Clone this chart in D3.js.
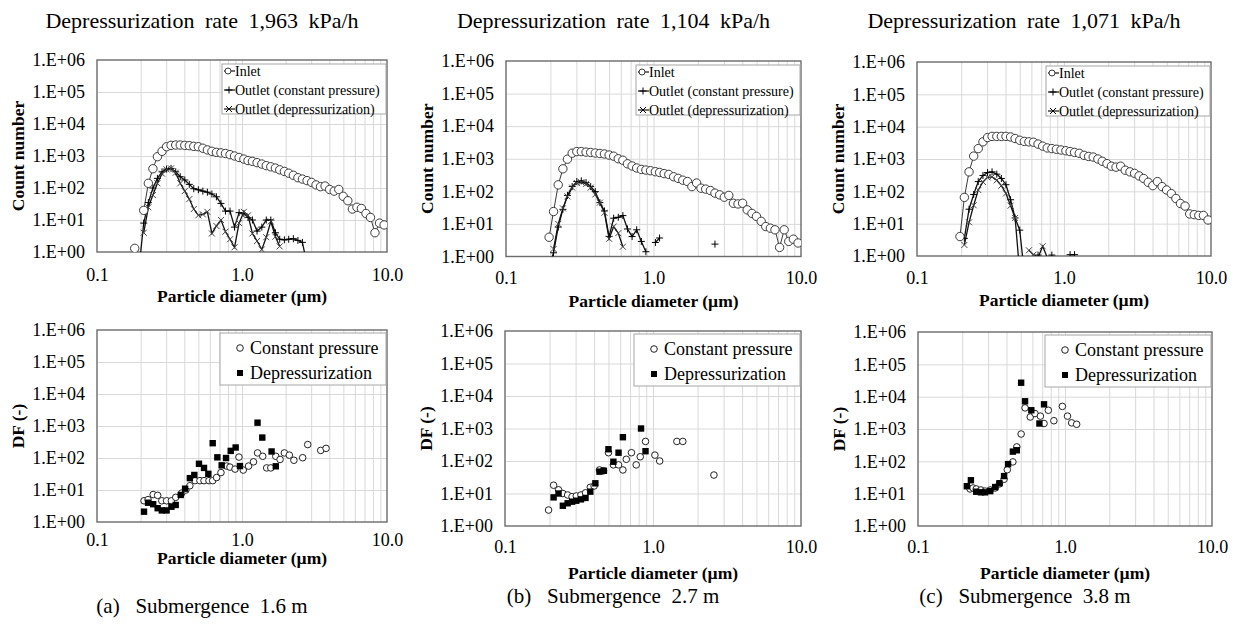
<!DOCTYPE html>
<html>
<head>
<meta charset="utf-8">
<script src="https://d3js.org/d3.v7.min.js"></script>
<style>
  body { margin: 0; background: #fff; }
  svg { display: block; font-family: "Liberation Serif", "Times New Roman", serif; }
</style>
</head>
<body>
<div class="container"></div>
<script>
// size bins of the particle counter (um)
const diameters = [
  0.182, 0.196, 0.210, 0.226, 0.243, 0.261, 0.281, 0.302, 0.324, 0.349,
  0.375, 0.403, 0.433, 0.465, 0.500, 0.537, 0.577, 0.620, 0.666, 0.716,
  0.769, 0.827, 0.888, 0.955, 1.03, 1.10, 1.18, 1.27, 1.37, 1.47,
  1.58, 1.70, 1.82, 1.96, 2.10, 2.26, 2.43, 2.61, 2.81, 3.02,
  3.24, 3.48, 3.74, 4.02, 4.32, 4.65, 4.99, 5.37, 5.77, 6.20,
  6.66, 7.16, 7.69, 8.26, 8.88, 9.55
];

// count numbers, one value per bin (null = no point)
const inletA = [
  1.3, null, 20, 140, 400, 950, 1400, 1950, 2150, 2200,
  2200, 2150, 2100, 2000, 1950, 1750, 1550, 1400, 1300, 1250,
  1200, 1100, 1000, 900, 800, 720, 680, 620, 560, 500,
  460, 420, 370, 330, 290, 250, 210, 190, 170, 150,
  125, 110, 115, 90, 80, 90, 55, 40, 22, 25,
  23, 16, 12, 4, 8, 7
];
const outletCpA = [
  null, 0.4, 8, 35, 100, 200, 320, 390, 410, 320,
  225, 178, 130, 95, 88, 80, 74, 65, 53, 33,
  19, 19, 6, 17, 16, 12, 10, 4.5, 6, 10,
  10, 4, 2.5, 2.4, 2.5, 2.6, 2.3, 2.0, 0.4
];
const outletDpA = [
  null, null, 4, 25, 60, 140, 280, 380, 410, 300,
  140, 80, 45, 22, 14, 15, 18, 3.8, 6.5, 10,
  4.3, 2.5, 1.4, 8, 18, 14, 3.8, 2.2, 1.2, 2.9,
  9, 3, 1.5
];
const inletB = [
  null, 3.9, 24, 158, 490, 970, 1480, 1660, 1660, 1600,
  1560, 1500, 1450, 1400, 1300, 1200, 1000, 900, 700, 600,
  520, 470, 450, 430, 400, 380, 350, 330, 280, 250,
  220, 200, 140, 180, 125, 117, 106, 88, 78, 66,
  75, 43, 41, 43, 27, 21, 17, 12, 8.3, 7.4,
  6.6, 1.9, 6.6, 2.9, 3.4, 2.6
];
const outletCpB = [
  null, 0.5, 1.3, 8, 28, 75, 140, 200, 210, 185,
  140, 98, 45, 25, 4.1, 15, 16, 18, 7, 4.1,
  6.6, 2.9, 1.4, null, 2.7, 3.7, null, null, null, null,
  null, null, null, null, null, null, null, 2.4
];
const outletDpB = [
  null, null, 1.7, 10, 30, 70, 130, 180, 190, 170,
  130, 80, 45, 22, 3.5, 8.3, 5.2, 2.0
];
const inletC = [
  null, 4, 65, 400, 1230, 2100, 3400, 4600, 5000, 5000,
  5000, 5000, 4800, 4300, 3800, 3500, 3400, 3300, 2900, 2500,
  2200, 2100, 2000, 1900, 1800, 1700, 1600, 1500, 1300, 1200,
  1150, 1000, 850, 720, 600, 560, 600, 450, 400, 360,
  300, 250, 190, 150, 200, 140, 110, 85, 60, 42,
  35, 20, 19, 18, 18, 13
];
const outletCpC = [
  null, null, 3.5, 28, 80, 200, 310, 380, 400, 340,
  250, 160, 55, 15, 6.3, 0.3, null, null, 1.07, null,
  null, 1.07, null, null, null, 1.1, 1.1
];
const outletDpC = [
  null, null, 2.2, 11, 37, 110, 195, 270, 280, 220,
  150, 86, 36, 15, 0.3, null, 1.5, 1.1, 0.9, 2.0,
  0.9
];

// decontamination factors, [diameter, DF]
const dfCpA = [[0.211,4.6],[0.225,5],[0.244,7.2],[0.262,6.8],[0.28,4.6],[0.302,4.6],[0.326,4.6],[0.349,5.9],[0.384,8],[0.41,10],[0.437,13.6],[0.474,19.6],[0.513,19.6],[0.547,19.6],[0.592,19.6],[0.628,19.6],[0.668,24.5],[0.716,35],[0.784,56],[0.826,52],[0.895,45],[0.953,107],[1.02,42],[1.11,56],[1.2,76],[1.28,144],[1.39,113],[1.48,49],[1.58,49],[1.71,113],[1.83,90],[1.96,144],[2.12,123],[2.28,85],[2.62,102],[2.84,263],[3.49,173],[3.8,200]];
const dfDpA = [[0.211,2.1],[0.225,4],[0.244,3.6],[0.262,2.7],[0.28,2.3],[0.302,2.3],[0.326,3.0],[0.349,3.4],[0.378,7],[0.405,11],[0.437,23.5],[0.469,29.5],[0.505,66],[0.547,49],[0.586,32],[0.628,290],[0.676,105],[0.724,59],[0.776,100],[0.836,167],[0.904,213],[0.968,56],[1.28,1270],[1.38,435],[1.6,160],[1.71,55]];
const dfCpB = [[0.197,3.1],[0.213,18],[0.23,13],[0.246,10],[0.265,9],[0.284,8],[0.303,8.4],[0.326,9],[0.35,10.5],[0.377,15.5],[0.4,17],[0.435,53],[0.463,50],[0.5,180],[0.54,76],[0.585,76],[0.626,53],[0.66,113],[0.715,180],[0.77,76],[0.82,135],[0.89,400],[1.03,152],[1.11,100],[1.45,400],[1.59,400],[2.58,37]];
const dfDpB = [[0.213,7.6],[0.23,10],[0.246,4.2],[0.265,5],[0.284,5.6],[0.303,6],[0.326,6.6],[0.35,7.3],[0.377,11.4],[0.408,20.6],[0.435,47],[0.466,50],[0.5,230],[0.54,95],[0.585,180],[0.626,540],[0.83,1000],[0.89,200]];
const dfCpC = [[0.226,14],[0.237,15],[0.249,14],[0.268,13],[0.286,12],[0.31,13],[0.335,15],[0.358,20],[0.385,28],[0.405,55],[0.442,96],[0.47,280],[0.503,700],[0.535,4500],[0.58,2350],[0.625,3000],[0.68,2500],[0.72,1480],[0.77,3800],[0.84,1800],[0.96,5000],[1.04,2500],[1.11,1550],[1.2,1400]];
const dfDpC = [[0.215,17],[0.229,26],[0.249,11.5],[0.268,11],[0.286,11],[0.31,12],[0.335,16],[0.358,21],[0.385,35],[0.41,82],[0.442,200],[0.47,220],[0.503,27000],[0.535,7200],[0.59,3800],[0.67,1480],[0.72,5800]];

// axis ticks and texts
const yTicks = [1, 10, 100, 1000, 1e4, 1e5, 1e6];
const yTickLabels = ["1.E+00", "1.E+01", "1.E+02", "1.E+03", "1.E+04", "1.E+05", "1.E+06"];
const xTicks = [0.1, 1, 10];
const xTickLabels = ["0.1", "1.0", "10.0"];
const xGrid = [0.2, 0.3, 0.4, 0.5, 0.6, 0.7, 0.8, 0.9, 1, 2, 3, 4, 5, 6, 7, 8, 9];
const titles = ["Depressurization rate 1,963 kPa/h", "Depressurization rate 1,104 kPa/h", "Depressurization rate 1,071 kPa/h"];
const captions = ["(a)   Submergence  1.6 m", "(b)   Submergence  2.7 m", "(c)   Submergence  3.8 m"];
const topLegend = ["Inlet", "Outlet (constant pressure)", "Outlet (depressurization)"];
const bottomLegend = ["Constant pressure", "Depressurization"];

const svg = d3.select(".container").append("svg")
  .attr("width", 1242).attr("height", 626);

const topPanels = [
  { left: 97, right: 387, top: 60, bottom: 252, pad: 16, titleDy: 50, inlet: inletA, cp: outletCpA, dp: outletDpA },
  { left: 506, right: 801, top: 61, bottom: 256.5, pad: 15, titleDy: 50, inlet: inletB, cp: outletCpB, dp: outletDpB },
  { left: 917, right: 1211, top: 62, bottom: 256, pad: 15, titleDy: 50, inlet: inletC, cp: outletCpC, dp: outletDpC }
];
const bottomPanels = [
  { left: 97, right: 387, top: 330, bottom: 522, pad: 11, titleDy: 42, capY: 613, cp: dfCpA, dp: dfDpA },
  { left: 505, right: 801, top: 331, bottom: 526, pad: 14, titleDy: 53, capY: 603, cp: dfCpB, dp: dfDpB },
  { left: 918, right: 1212, top: 332, bottom: 526, pad: 14, titleDy: 53, capY: 603, cp: dfCpC, dp: dfDpC }
];

const plusPath = "M-3.5,0H3.5M0,-3.5V3.5";
const crossPath = "M-3,-3L3,3M-3,3L3,-3";

// grid, frame, ticks and axis titles of one panel
const drawFrame = (p, i, yTitle) => {
  const x = d3.scaleLog().domain([0.1, 10]).range([p.left, p.right]);
  const y = d3.scaleLog().domain([1, 1e6]).range([p.bottom, p.top]);
  const g = svg.append("g");

  g.append("g")
    .attr("transform", `translate(0,${p.bottom})`)
    .call(d3.axisBottom(x).tickValues(xGrid).tickSize(-(p.bottom - p.top)).tickFormat(""))
    .call((s) => s.select(".domain").remove())
    .call((s) => s.selectAll("line").attr("stroke", "#d9d9d9"));

  g.append("g")
    .attr("transform", `translate(${p.left},0)`)
    .call(d3.axisLeft(y).tickValues(yTicks.slice(1, 6)).tickSize(-(p.right - p.left)).tickFormat(""))
    .call((s) => s.select(".domain").remove())
    .call((s) => s.selectAll("line").attr("stroke", "#d9d9d9"));

  g.append("rect")
    .attr("x", p.left).attr("y", p.top)
    .attr("width", p.right - p.left).attr("height", p.bottom - p.top)
    .attr("fill", "none").attr("stroke", "#6b6b6b").attr("stroke-width", 1.4);

  g.append("g")
    .attr("transform", `translate(${p.left},0)`)
    .call(d3.axisLeft(y).tickValues(yTicks).tickFormat((d, k) => yTickLabels[k]).tickSize(0).tickPadding(12))
    .call((s) => s.select(".domain").remove())
    .selectAll("text")
    .attr("font-family", "Liberation Serif").attr("font-size", 18).attr("fill", "#000");

  g.append("g")
    .attr("transform", `translate(0,${p.bottom})`)
    .call(d3.axisBottom(x).tickValues(xTicks).tickFormat((d, k) => xTickLabels[k]).tickSize(0).tickPadding(p.pad))
    .call((s) => s.select(".domain").remove())
    .selectAll("text")
    .attr("font-family", "Liberation Serif").attr("font-size", 18).attr("fill", "#000");

  g.selectAll(".tick text").attr("font-family", "Liberation Serif");
  g.selectAll("g").attr("font-family", null);

  g.append("text")
    .attr("x", (p.left + p.right) / 2).attr("y", p.bottom + p.titleDy)
    .attr("text-anchor", "middle").attr("font-weight", "bold").attr("font-size", 17.5)
    .text("Particle diameter (\u00b5m)");

  g.append("text")
    .attr("transform", `translate(${p.left - 79},${(p.top + p.bottom) / 2}) rotate(-90)`)
    .attr("text-anchor", "middle").attr("dy", "0.35em")
    .attr("font-weight", "bold").attr("font-size", 17.5)
    .text(yTitle);

  svg.append("clipPath").attr("id", "clip" + yTitle.length + i)
    .append("rect")
    .attr("x", p.left).attr("y", p.top)
    .attr("width", p.right - p.left).attr("height", p.bottom - p.top);

  return { x, y, g, clip: `url(#clip${yTitle.length}${i})` };
};

// top row: size distributions
topPanels.forEach((p, i) => {
  const { x, y, g, clip } = drawFrame(p, i, "Count number");

  svg.append("text")
    .attr("x", (p.left + p.right) / 2 - 40).attr("y", 28)
    .attr("text-anchor", "middle").attr("font-size", 22).attr("word-spacing", 5)
    .text(titles[i]);

  const toPoints = (arr) => arr.map((v, k) => ({ d: diameters[k], v: v }));
  const line = d3.line().defined((d) => d.v != null).x((d) => x(d.d)).y((d) => y(d.v));
  const plot = g.append("g").attr("clip-path", clip);

  const inlet = toPoints(p.inlet);
  plot.append("path").datum(inlet).attr("d", line)
    .attr("fill", "none").attr("stroke", "#3a3a3a").attr("stroke-width", 1);

  [p.cp, p.dp].forEach((arr, s) => {
    const pts = toPoints(arr);
    plot.append("path").datum(pts).attr("d", line)
      .attr("fill", "none").attr("stroke", "#111").attr("stroke-width", 1.3);
    plot.selectAll(null)
      .data(pts.filter((d) => d.v != null && d.v >= 0.95))
      .join("path")
      .attr("transform", (d) => `translate(${x(d.d)},${y(d.v)})`)
      .attr("d", s === 0 ? plusPath : crossPath)
      .attr("stroke", s === 0 ? "#000" : "#444").attr("stroke-width", 1).attr("fill", "none");
  });

  plot.selectAll(null)
    .data(inlet.filter((d) => d.v != null && d.v >= 1))
    .join("circle")
    .attr("cx", (d) => x(d.d)).attr("cy", (d) => y(d.v)).attr("r", 4.2)
    .attr("fill", "#fff").attr("stroke", "#3a3a3a").attr("stroke-width", 1);

  // legend
  const bx = p.right - 165, by = p.top + 4;
  const lg = g.append("g");
  lg.append("rect").attr("x", bx).attr("y", by).attr("width", 164).attr("height", 50)
    .attr("fill", "#fff").attr("stroke", "#a6a6a6").attr("stroke-width", 1);
  topLegend.forEach((name, k) => {
    const cy = by + 7 + k * 19;
    lg.append("line").attr("x1", bx + 2).attr("x2", bx + 13).attr("y1", cy).attr("y2", cy)
      .attr("stroke", "#111").attr("stroke-width", 1.2);
    if (k === 0) {
      lg.append("circle").attr("cx", bx + 6).attr("cy", cy).attr("r", 3)
        .attr("fill", "#fff").attr("stroke", "#3a3a3a");
    } else {
      lg.append("path").attr("transform", `translate(${bx + 7},${cy})`)
        .attr("d", k === 1 ? plusPath : crossPath).attr("stroke", "#000").attr("fill", "none");
    }
    lg.append("text").attr("x", bx + 13).attr("y", cy + 5)
      .attr("font-size", 14).text(name);
  });
});

// bottom row: decontamination factors
bottomPanels.forEach((p, i) => {
  const { x, y, g, clip } = drawFrame(p, i, "DF (-)");
  const plot = g.append("g").attr("clip-path", clip);

  plot.selectAll(null)
    .data(p.cp)
    .join("circle")
    .attr("cx", (d) => x(d[0])).attr("cy", (d) => y(d[1])).attr("r", 3.3)
    .attr("fill", "#fff").attr("stroke", "#222").attr("stroke-width", 1);

  plot.selectAll(null)
    .data(p.dp)
    .join("rect")
    .attr("x", (d) => x(d[0]) - 3.2).attr("y", (d) => y(d[1]) - 3.2)
    .attr("width", 6.4).attr("height", 6.4)
    .attr("fill", "#000");

  const bx = p.right - 167, by = p.top + 3;
  const lg = g.append("g");
  lg.append("rect").attr("x", bx).attr("y", by).attr("width", 166).attr("height", 52)
    .attr("fill", "#fff").attr("stroke", "#a6a6a6").attr("stroke-width", 1);
  bottomLegend.forEach((name, k) => {
    const cy = by + 15 + k * 25;
    if (k === 0) {
      lg.append("circle").attr("cx", bx + 20).attr("cy", cy).attr("r", 3.3)
        .attr("fill", "#fff").attr("stroke", "#222");
    } else {
      lg.append("rect").attr("x", bx + 17).attr("y", cy - 3).attr("width", 6).attr("height", 6)
        .attr("fill", "#000");
    }
    lg.append("text").attr("x", bx + 30).attr("y", cy + 6)
      .attr("font-size", 18).text(name);
  });

  svg.append("text")
    .attr("x", (p.left + p.right) / 2 - 40).attr("y", p.capY)
    .attr("text-anchor", "middle").attr("font-size", 21)
    .style("white-space", "pre")
    .text(captions[i]);
});
</script>
</body>
</html>
